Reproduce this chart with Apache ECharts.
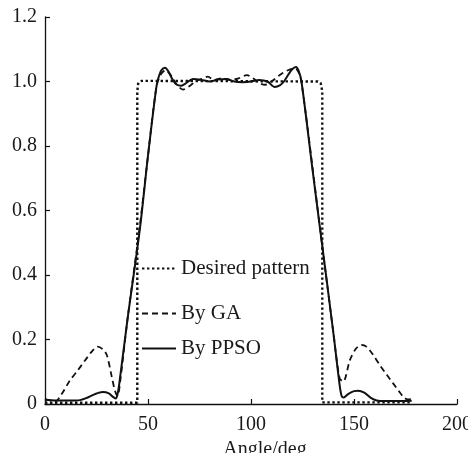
<!DOCTYPE html>
<html>
<head>
<meta charset="utf-8">
<script src="https://cdn.jsdelivr.net/npm/echarts@6/dist/echarts.min.js"></script>
<style>html,body{margin:0;padding:0;background:#fff}#c{width:468px;height:453px}</style>
</head>
<body>
<div id="c"></div>
<script>
// ---- data ----
const xTicks = [0, 50, 100, 150, 200];
const yTicks = [0, 0.2, 0.4, 0.6, 0.8, 1.0, 1.2];
const seriesNames = ['Desired pattern', 'By GA', 'By PPSO'];

const desiredX = [0, 44.8, 44.8, 45.2, 46, 47, 132.5, 133.8, 134.6, 134.6, 178];
const desiredY = [0.004, 0.004, 0.97, 0.993, 1.0, 1.002, 1.0, 0.995, 0.97, 0.005, 0.005];

const gaX = [0, 3, 5, 8, 12, 16, 20, 23, 25.5, 28, 30, 32.4, 34, 35.2, 36.5, 40, 46, 50, 54, 56, 58.5, 61, 64, 67, 70, 73, 76, 79, 82, 86, 90, 94, 98, 101, 104, 107, 110, 114, 118, 121.5, 123, 124.5, 134, 140, 143, 144.8, 148, 151, 153.7, 156, 159, 162.6, 166, 169, 172, 174, 176, 178];
const gaY = [0.015, 0.01, 0.008, 0.03, 0.072, 0.105, 0.14, 0.165, 0.178, 0.17, 0.152, 0.085, 0.04, 0.025, 0.07, 0.26, 0.55, 0.77, 0.98, 1.02, 1.035, 1.02, 0.99, 0.975, 0.985, 1.0, 1.008, 1.015, 1.005, 1.01, 1.005, 1.01, 1.02, 1.01, 0.995, 0.99, 1.0, 1.02, 1.035, 1.04, 1.03, 1.0, 0.52, 0.22, 0.08, 0.07, 0.136, 0.172, 0.183, 0.178, 0.155, 0.12, 0.09, 0.064, 0.038, 0.022, 0.014, 0.016];

const ppsoX = [0, 5, 10, 15, 17, 20, 24, 28, 31, 33, 34.3, 35.2, 36, 40, 46, 50, 54, 55, 56.5, 58.3, 60, 62, 64, 66, 68, 72, 76, 80, 84, 88, 92, 96, 100, 104, 108, 111.5, 114, 116, 118, 120, 121.8, 123, 124.5, 130, 134, 140, 143, 144, 145, 147, 150, 152, 155, 158, 161, 165, 170, 178];
const ppsoY = [0.013, 0.011, 0.011, 0.011, 0.012, 0.018, 0.03, 0.037, 0.033, 0.022, 0.017, 0.03, 0.06, 0.26, 0.54, 0.77, 0.98, 1.01, 1.035, 1.043, 1.03, 1.005, 0.99, 0.987, 0.993, 1.008, 1.005, 1.0, 1.006, 1.008, 1.0, 0.998, 1.0, 1.005, 1.0, 0.983, 0.988, 1.0, 1.02, 1.038, 1.045, 1.035, 1.0, 0.72, 0.52, 0.22, 0.06, 0.025, 0.02, 0.03, 0.04, 0.041, 0.035, 0.02, 0.011, 0.009, 0.009, 0.01];

const zip = (xs, ys) => xs.map((x, i) => [x, ys[i]]);

const FONT = "'Liberation Serif','Times New Roman',serif";
const TXT = '#1a1a1a';
const chart = echarts.init(document.getElementById('c'), null, {renderer: 'canvas'});

const legendBase = {
  orient: 'horizontal', left: 141, padding: 0, itemWidth: 34, itemHeight: 20,
  textStyle: {fontFamily: FONT, fontSize: 21, color: TXT},
  itemStyle: {opacity: 0},
  selectedMode: false
};

chart.setOption({
  animation: false,
  backgroundColor: '#fff',
  grid: {left: 45, right: 11, top: 17, bottom: 49, containLabel: false, outerBoundsMode: 'none'},
  legend: [
    Object.assign({}, legendBase, {data: [seriesNames[0]], top: 258}),
    Object.assign({}, legendBase, {data: [seriesNames[1]], top: 303}),
    Object.assign({}, legendBase, {data: [seriesNames[2]], top: 338})
  ],
  xAxis: {
    type: 'value', min: xTicks[0], max: xTicks[xTicks.length - 1], interval: 50,
    name: 'Angle/deg', nameLocation: 'middle', nameGap: 30,
    nameTextStyle: {fontFamily: FONT, fontSize: 20, color: TXT, padding: [0, 0, 0, 28]},
    axisLine: {show: true, onZero: false, lineStyle: {color: '#111', width: 1.3}},
    axisTick: {show: true, inside: true, length: 5, lineStyle: {color: '#111', width: 1.2}},
    axisLabel: {fontFamily: FONT, fontSize: 20, color: TXT, margin: 11},
    splitLine: {show: false}
  },
  yAxis: {
    type: 'value', min: yTicks[0], max: yTicks[yTicks.length - 1], interval: 0.2,
    axisLine: {show: true, onZero: false, lineStyle: {color: '#111', width: 1.3}},
    axisTick: {show: true, inside: true, length: 5, lineStyle: {color: '#111', width: 1.2}},
    axisLabel: {fontFamily: FONT, fontSize: 20, color: TXT, margin: 8,
      formatter: v => (v === 0 ? '0' : v.toFixed(1))},
    splitLine: {show: false}
  },
  series: [
    {name: seriesNames[0], type: 'line', data: zip(desiredX, desiredY), symbol: 'none',
     lineStyle: {color: '#111', width: 2.4, type: [2.4, 2.6]}, itemStyle: {color: '#111'}},
    {name: seriesNames[1], type: 'line', data: zip(gaX, gaY), symbol: 'none', smooth: 0.3,
     lineStyle: {color: '#111', width: 1.8, type: [6, 4]}, itemStyle: {color: '#111'}},
    {name: seriesNames[2], type: 'line', data: zip(ppsoX, ppsoY), symbol: 'none', smooth: 0.3,
     lineStyle: {color: '#111', width: 2}, itemStyle: {color: '#111'}}
  ]
});
</script>
</body>
</html>
